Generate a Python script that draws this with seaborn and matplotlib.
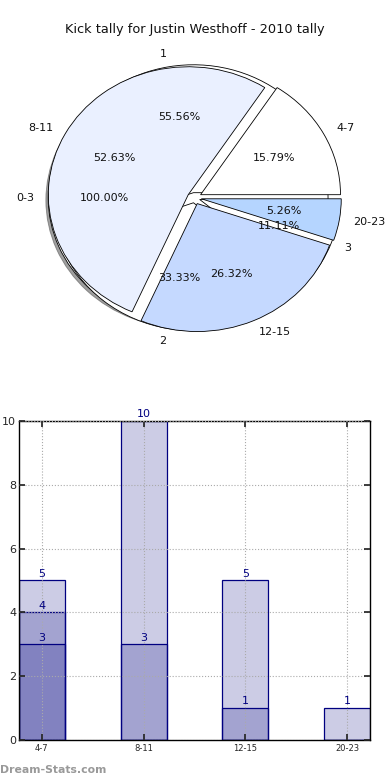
import pandas as pd
import matplotlib
matplotlib.use("Agg")
import matplotlib.pyplot as plt
import matplotlib.patches as mpatches
import seaborn as sns

# pie data
all_labels = ["0-3"]
all_values = [1]
dist_labels = ["4-7", "8-11", "12-15", "20-23"]
dist_values = [3, 10, 5, 1]
goal_labels = ["1", "2", "3"]
goal_values = [5, 3, 1]
pie_colors = ["#ffffff", "#eaf0ff", "#c5d9ff", "#b5d5ff"]

# bar data (three overlaid layers)
bar_cats = ["4-7", "8-11", "12-15", "20-23"]
layer_top = [5, 10, 5, 1]
layer_mid = [4, 3, 1, 0]
layer_low = [3, 0, 0, 0]

sns.set_theme(style="white")
plt.rcParams["font.family"] = ["DejaVu Sans"]

fig = plt.figure(figsize=(3.9, 7.8), dpi=100)
fig.text(0.5, 1 - 30 / 780, "Kick tally for Justin Westhoff - 2010 tally",
         ha="center", va="center", fontsize=9.3, color="#111111")

# --- pie section ---
ax1 = fig.add_axes([0.05, 0.5415, 0.897, 0.410])
wp = dict(edgecolor="black", linewidth=0.6)
tp = dict(fontsize=8, color="#111111")

ax1.pie(all_values, labels=all_labels, colors=["#ffffff"], explode=[0.045],
        autopct="%.2f%%", startangle=0,
        shadow={"ox": -0.012, "oy": -0.014, "shade": 0.75},
        wedgeprops=wp, textprops=tp)
ax1.pie(goal_values, labels=goal_labels, colors=["#ffffff"] * 3,
        explode=[0.04] * 3, autopct="%.2f%%", startangle=0,
        wedgeprops=wp, textprops=tp)
ax1.pie(dist_values, labels=dist_labels, colors=pie_colors,
        explode=[0.05] * 4, autopct="%.2f%%", startangle=0,
        wedgeprops=wp, textprops=tp)
for p in ax1.patches:
    if isinstance(p, mpatches.Shadow):
        p.set_zorder(0.5)
ax1.set_aspect("auto")
ax1.set_xlim(-1.25, 1.25)
ax1.set_ylim(-1.25, 1.25)
ax1.axis("off")

# --- bar section ---
ax2 = fig.add_axes([0.0487, 0.0513, 0.9, 0.409])
navy_fill = (0, 0, 0.5, 0.2)
for vals in [layer_top, layer_mid, layer_low]:
    df = pd.DataFrame({"cat": bar_cats, "val": vals})
    n0 = len(ax2.patches)
    sns.barplot(data=df, x="cat", y="val", order=bar_cats, width=0.45,
                color="navy", saturation=1, ax=ax2)
    for p, v in zip(ax2.patches[n0:], vals):
        p.set_facecolor(navy_fill)
        p.set_edgecolor("navy")
        p.set_linewidth(0.9)
        if v > 0:
            ax2.text(p.get_x() + p.get_width() / 2, v + 0.05, str(v),
                     ha="center", va="bottom", color="navy", fontsize=8)

ax2.set_xlim(-0.225, 3.225)
ax2.set_ylim(0, 10)
ax2.set_yticks(range(0, 11, 2))
ax2.set_xlabel("")
ax2.set_ylabel("")
ax2.grid(True, linestyle=":", color="#aaaaaa", linewidth=0.8)
ax2.set_axisbelow(False)
for s in ax2.spines.values():
    s.set_color("black")
    s.set_linewidth(1)
ax2.tick_params(axis="y", labelsize=8, direction="in", length=4, pad=2,
                left=True, right=True)
ax2.tick_params(axis="x", labelsize=6, direction="in", length=4, pad=3,
                bottom=True, top=True)

fig.text(0.0, 10 / 780, "Dream-Stats.com", ha="left", va="center",
         fontsize=7.8, color="#999999", fontweight="bold")

fig.savefig("out.png", dpi=100)
